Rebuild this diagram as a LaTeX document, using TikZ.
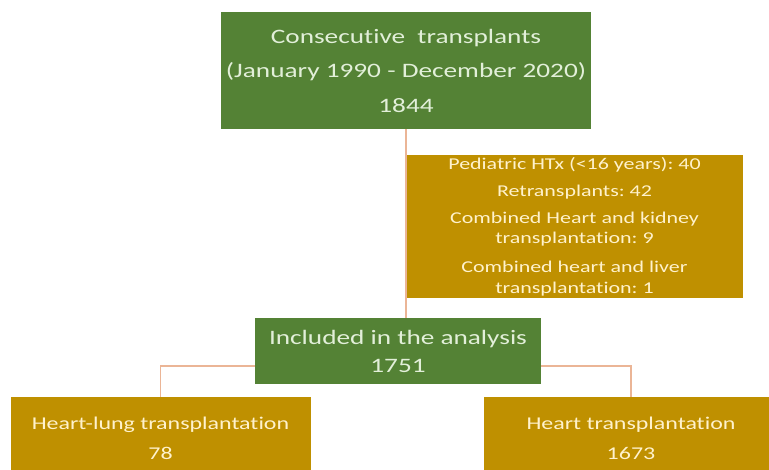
\documentclass[tikz,border=0pt]{standalone}
\usepackage{fontspec}
\setmainfont{Carlito}[FakeStretch=1.33,Ligatures=CommonOff]
\frenchspacing
\definecolor{boxgreen}{HTML}{548235}
\definecolor{boxgold}{HTML}{BF9000}
\definecolor{greentext}{HTML}{E2EFD9}
\definecolor{goldtext}{HTML}{FFF2CC}
\definecolor{linkc}{HTML}{EBB596}
\begin{document}
\begin{tikzpicture}[x=1pt,y=-1pt,
  greenbox/.style={fill=boxgreen,text=greentext,align=center,inner sep=0pt},
  goldbox/.style={fill=boxgold,text=goldtext,align=center,inner sep=0pt},
  link/.style={draw=linkc,line width=1.5pt}]
\useasboundingbox (0,0) rectangle (769,469);
\fill[white] (0,0) rectangle (769,469);
\node[greenbox,minimum width=370pt,minimum height=117pt,
  font=\fontsize{20.5}{34.5}\selectfont] (top) at (406,70.5)
  {Consecutive\ \ transplants\\(January 1990 - December 2020)\\1844};
\node[goldbox,minimum width=337pt,minimum height=143pt,
  font=\fontsize{16.5}{20.5}\selectfont] (excl) at (574.5,226.5)
  {Pediatric HTx (<16 years): 40\\[6.5pt]Retransplants: 42\\[6.5pt]Combined Heart and kidney\\transplantation: 9\\[8.5pt]Combined heart and liver\\transplantation: 1};
\node[greenbox,minimum width=286pt,minimum height=66pt,
  font=\fontsize{20.5}{28}\selectfont] (incl) at (398,351)
  {Included in the analysis\\1751};
\node[goldbox,minimum width=300pt,minimum height=82pt,
  font=\fontsize{18}{30}\selectfont] (left) at (160.5,438)
  {Heart-lung transplantation\\78};
\node[goldbox,minimum width=294pt,minimum height=82pt,
  font=\fontsize{18}{30}\selectfont] (right) at (631,438)
  {Heart transplantation\\1673};
\draw[link] (top.south) -- (top.south |- incl.north);
\draw[link] ([yshift=-15pt]incl.west) -| (left.north);
\draw[link] ([yshift=-15pt]incl.east) -| (right.north);
\end{tikzpicture}
\end{document}
